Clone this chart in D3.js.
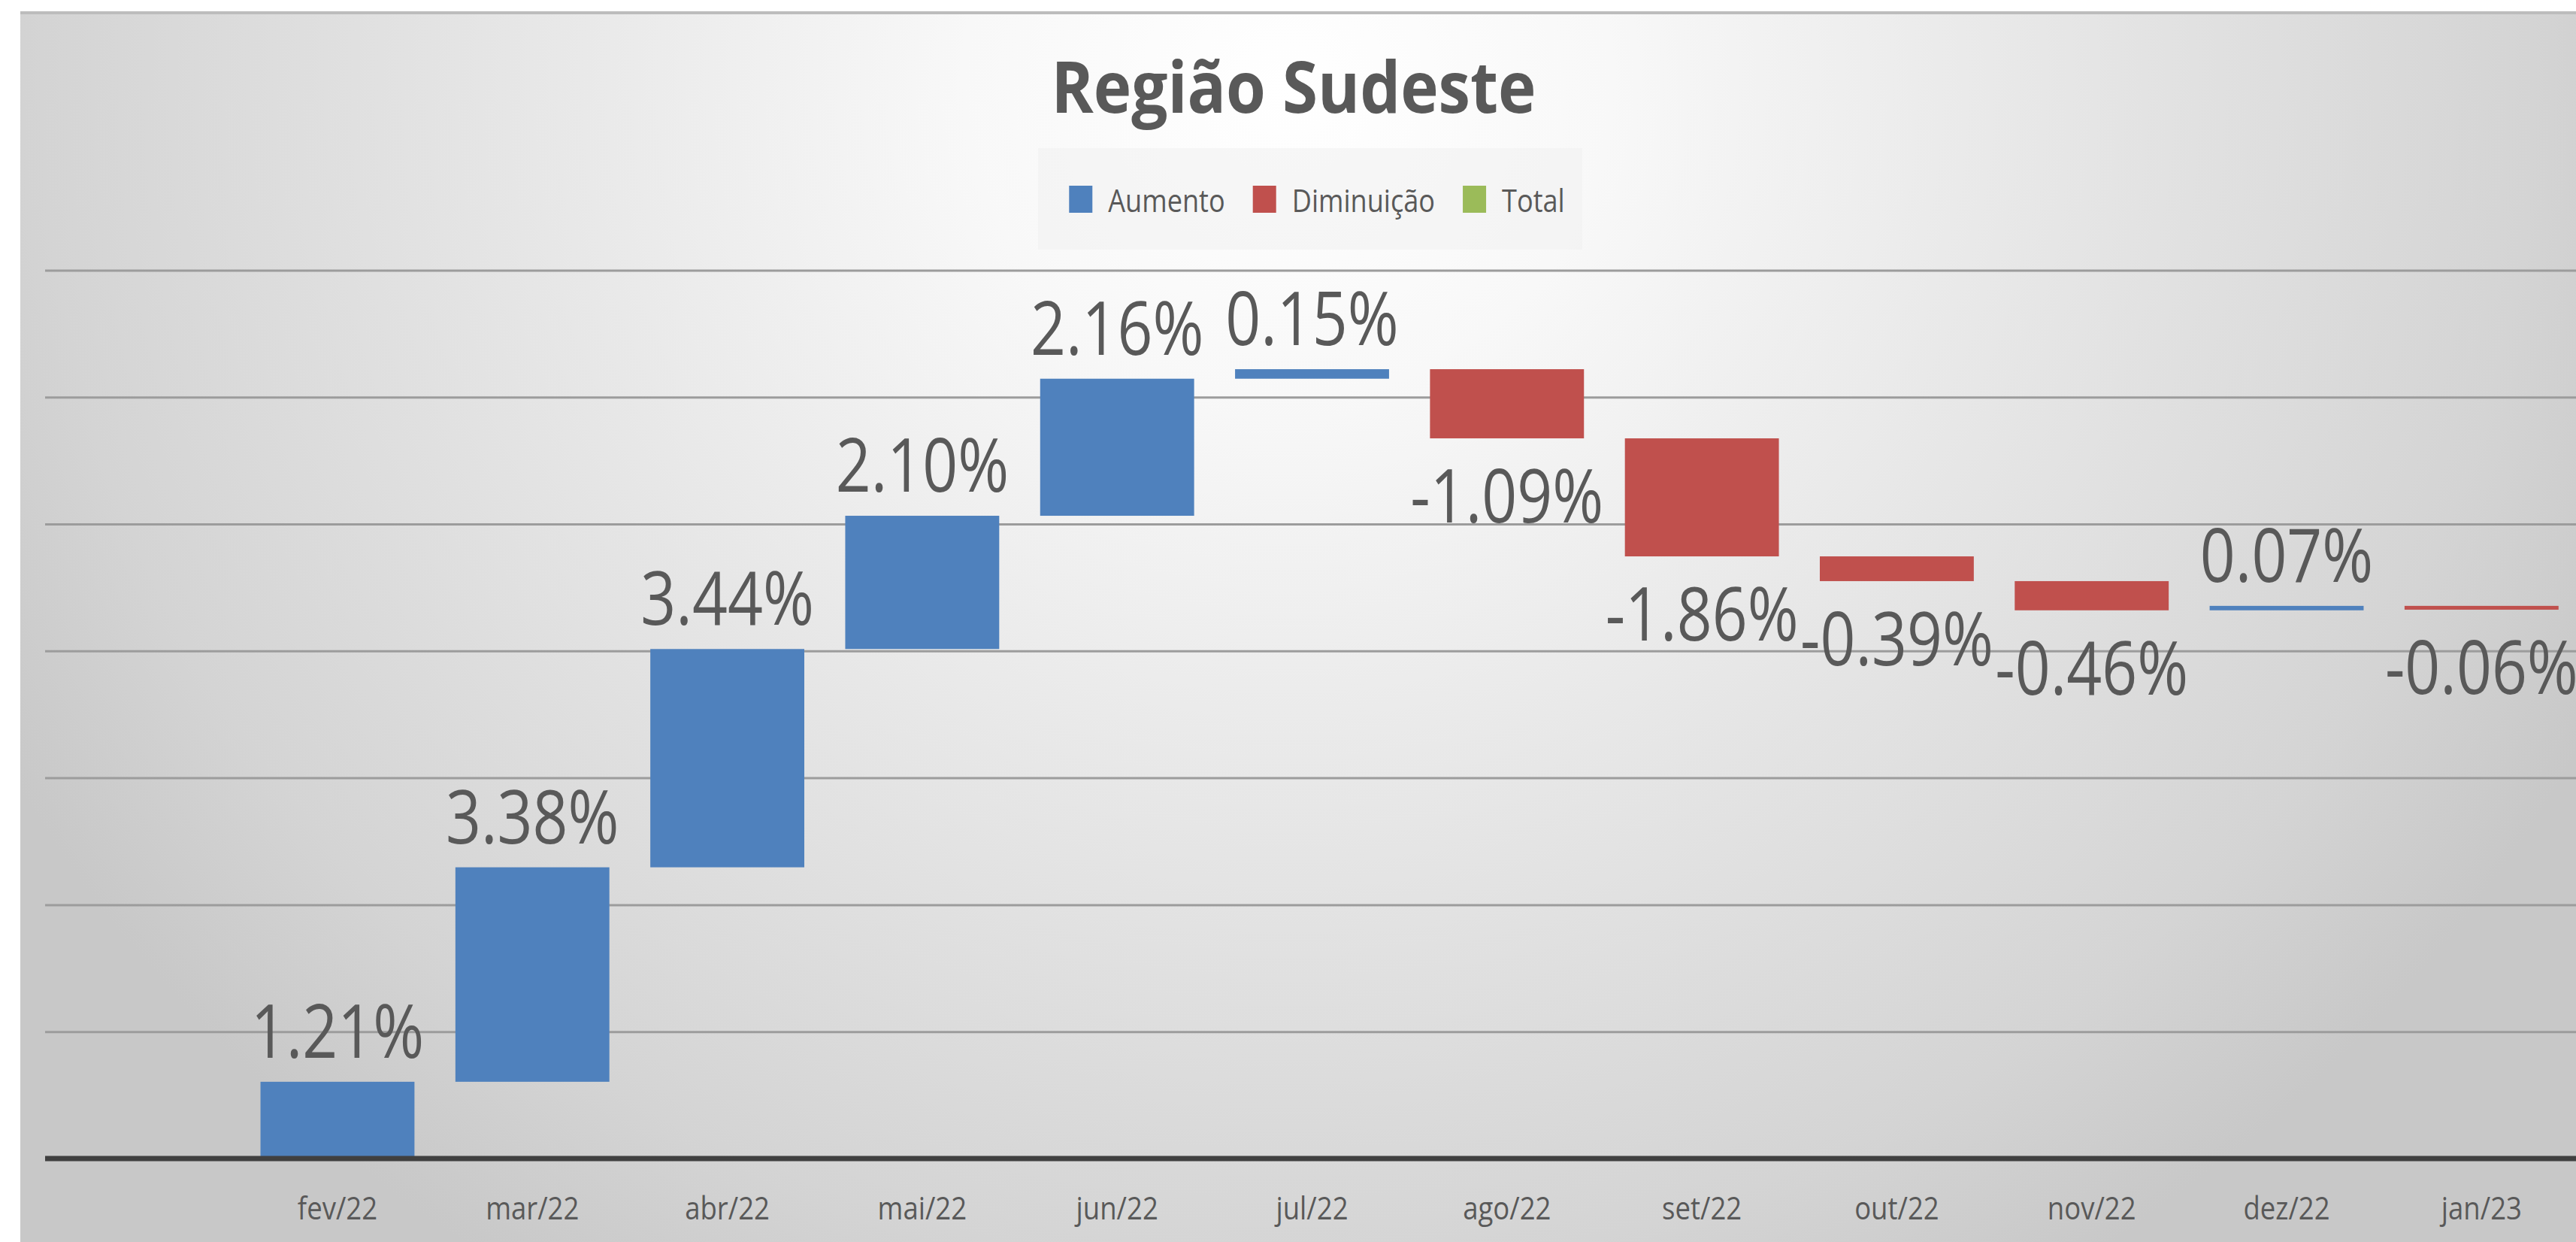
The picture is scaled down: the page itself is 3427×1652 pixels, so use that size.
<!DOCTYPE html>
<html>
<head>
<meta charset="utf-8">
<script src="https://cdn.jsdelivr.net/npm/d3@7"></script>
<style>
  html, body { margin: 0; padding: 0; background: #ffffff; }
  svg { display: block; }
  text { font-family: "Open Sans", "Noto Sans", sans-serif; fill: #595959; }
</style>
</head>
<body>
<svg id="chart" width="3427" height="1652"></svg>
<script>
// ---- data ----
const title = "Região Sudeste";
const categories = ["fev/22","mar/22","abr/22","mai/22","jun/22","jul/22","ago/22","set/22","out/22","nov/22","dez/22","jan/23"];
const changes = [1.21, 3.38, 3.44, 2.10, 2.16, 0.15, -1.09, -1.86, -0.39, -0.46, 0.07, -0.06];
const gridTicks = [2, 4, 6, 8, 10, 12, 14];
const legendLabels = ["Aumento", "Diminuição", "Total"];
const legendColors = ["#4f81bd", "#c0504d", "#9bbb59"];

// ---- layout ----
const W = 3427, H = 1652;
const frame = {x: 27, y: 16};
const plotLeft = 60, plotRight = 3431;
const axisY = 1541;
const svg = d3.select("#chart");

// background gradient
const defs = svg.append("defs");
const rg = defs.append("radialGradient").attr("id", "bg")
  .attr("gradientUnits", "userSpaceOnUse")
  .attr("cx", 1713).attr("cy", 120).attr("r", 1950)
  .attr("gradientTransform", "translate(1713,120) scale(1,0.95) translate(-1713,-120)");
rg.append("stop").attr("offset", 0).attr("stop-color", "#ffffff");
rg.append("stop").attr("offset", 0.22).attr("stop-color", "#f8f8f8");
rg.append("stop").attr("offset", 0.55).attr("stop-color", "#e5e5e5");
rg.append("stop").attr("offset", 0.85).attr("stop-color", "#d4d4d4");
rg.append("stop").attr("offset", 1).attr("stop-color", "#c8c8c8");

svg.append("rect").attr("x", frame.x).attr("y", frame.y)
  .attr("width", W - frame.x).attr("height", H - frame.y)
  .attr("fill", "url(#bg)");
svg.append("line").attr("x1", frame.x).attr("x2", W).attr("y1", frame.y + 1).attr("y2", frame.y + 1)
  .attr("stroke", "#bcbcbc").attr("stroke-width", 4);

// scales
const step = (plotRight - plotLeft) / (categories.length + 1);
const x = d3.scaleBand().domain(categories)
  .range([plotLeft + step, plotRight]).paddingInner(0.21).paddingOuter(0.105);
const y = d3.scaleLinear().domain([0, 16]).range([axisY, axisY - 8 * 168.8]);

// gridlines
const grid = svg.append("g").attr("transform", `translate(${plotLeft},0)`)
  .call(d3.axisLeft(y).tickValues(gridTicks).tickSize(-(W - plotLeft)).tickFormat(""));
grid.select(".domain").remove();
grid.selectAll(".tick line").attr("stroke", "#9c9c9c").attr("stroke-width", 3);

// waterfall data
let run = 0;
const bars = changes.map((v, i) => {
  const start = run; run += v;
  return {cat: categories[i], v, start, end: run};
});

// bars
svg.append("g").selectAll("rect").data(bars).join("rect")
  .attr("x", d => x(d.cat))
  .attr("width", x.bandwidth())
  .attr("y", d => y(Math.max(d.start, d.end)))
  .attr("height", d => Math.max(2, Math.abs(y(d.start) - y(d.end))))
  .attr("fill", d => d.v >= 0 ? legendColors[0] : legendColors[1]);

// x axis
const xa = svg.append("g").attr("transform", `translate(0,${axisY})`)
  .call(d3.axisBottom(x).tickSize(0).tickPadding(0));
xa.select(".domain").remove();
xa.selectAll(".tick text")
  .attr("y", 81).attr("dy", 0)
  .attr("font-size", 42)
  .attr("transform", "scale(0.87,1)")
  .style("fill", "#595959");
svg.append("line").attr("x1", plotLeft).attr("x2", W).attr("y1", axisY).attr("y2", axisY)
  .attr("stroke", "#404040").attr("stroke-width", 7);

// data labels
const loc = d3.formatLocale({decimal: ".", thousands: ",", grouping: [3], currency: ["", ""], minus: "-"});
const fmt = loc.format(".2f");
svg.append("g").selectAll("g").data(bars).join("g")
  .attr("transform", d => {
    const cx = x(d.cat) + x.bandwidth() / 2;
    const top = y(Math.max(d.start, d.end));
    const bot = y(Math.min(d.start, d.end));
    const by = d.v >= 0 ? top - 32 : bot + 112;
    return `translate(${cx},${by}) scale(0.83,1)`;
  })
  .append("text")
  .attr("text-anchor", "middle")
  .attr("font-size", 99)
  .text(d => fmt(d.v) + "%");

// title
const tg = svg.append("g");
const tt = tg.append("text").attr("text-anchor", "middle")
  .attr("font-size", 95).attr("font-weight", 700)
  .text(title);
const tw = tt.node().getComputedTextLength();
tg.attr("transform", `translate(1721,150) scale(${645 / tw},1)`);

// legend
svg.append("rect").attr("x", 1381).attr("y", 197).attr("width", 724).attr("height", 135)
  .attr("fill", "#f1f1f1").attr("opacity", 0.55);
const lg = svg.append("g");
let lx = 0;
const lscale = 0.86;
legendLabels.forEach((lab, i) => {
  lg.append("rect").attr("x", lx).attr("y", -35).attr("width", 31).attr("height", 36)
    .attr("fill", legendColors[i]);
  const t = lg.append("text").attr("font-size", 42)
    .attr("transform", `translate(${lx + 52},0) scale(${lscale},1)`)
    .text(lab);
  lx += 52 + t.node().getComputedTextLength() * lscale + 37;
});
const lw = lx - 37;
lg.attr("transform", `translate(${1752 - lw / 2},282)`);
</script>
</body>
</html>
